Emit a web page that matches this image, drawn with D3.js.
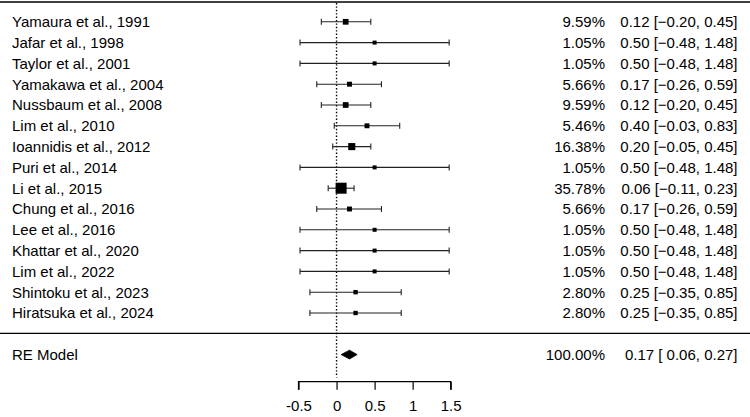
<!DOCTYPE html>
<html>
<head>
<meta charset="utf-8">
<script src="https://cdn.jsdelivr.net/npm/d3@7"></script>
<style>
html,body{margin:0;padding:0;background:#fff;}
svg{display:block;font-family:"Liberation Sans",Arial,Helvetica,sans-serif;}
</style>
</head>
<body>
<svg id="chart" width="750" height="417"></svg>
<script>
const studies = ["Yamaura et al., 1991","Jafar et al., 1998","Taylor et al., 2001","Yamakawa et al., 2004","Nussbaum et al., 2008","Lim et al., 2010","Ioannidis et al., 2012","Puri et al., 2014","Li et al., 2015","Chung et al., 2016","Lee et al., 2016","Khattar et al., 2020","Lim et al., 2022","Shintoku et al., 2023","Hiratsuka et al., 2024"];
const weights = [9.59,1.05,1.05,5.66,9.59,5.46,16.38,1.05,35.78,5.66,1.05,1.05,1.05,2.80,2.80];
const estimates = [0.12,0.50,0.50,0.17,0.12,0.40,0.20,0.50,0.06,0.17,0.50,0.50,0.50,0.25,0.25];
const lower = [-0.20,-0.48,-0.48,-0.26,-0.20,-0.03,-0.05,-0.48,-0.11,-0.26,-0.48,-0.48,-0.48,-0.35,-0.35];
const upper = [0.45,1.48,1.48,0.59,0.45,0.83,0.45,1.48,0.23,0.59,1.48,1.48,1.48,0.85,0.85];
const summary = {label:"RE Model", weight:100.00, est:0.17, lo:0.06, hi:0.27};
const xTicks = [-0.5,0,0.5,1,1.5];

const svg = d3.select("#chart");
const x = d3.scaleLinear().domain([-0.5,1.5]).range([298.5,450.7]);
const y = d3.scaleLinear().domain([0,15]).range([333.8,21.8]);
const size = d3.scaleLinear().domain([d3.min(weights), d3.max(weights)]).range([4,11]);
const fmt = d3.format(".2f");
const fmtCI = v => (v < 0 ? "" : " ") + fmt(v);
const fs = 15;

const n = studies.length;
const rows = studies.map((s,i)=>({label:s, w:weights[i], est:estimates[i], lo:lower[i], hi:upper[i], row:n-i}));

// horizontal rules
svg.append("line").attr("x1",0).attr("x2",750).attr("y1",y(16)+1).attr("y2",y(16)+1)
  .attr("stroke","#000").attr("stroke-width",1.6);
svg.append("line").attr("x1",0).attr("x2",750).attr("y1",y(0)-0.5).attr("y2",y(0)-0.5)
  .attr("stroke","#000").attr("stroke-width",1.2);

// reference line at 0
svg.append("line").attr("x1",x(0)).attr("x2",x(0)).attr("y1",y(16)+2).attr("y2",y(-2.1))
  .attr("stroke","#000").attr("stroke-width",1.4).attr("stroke-dasharray","1.4,2");

// CIs
const g = svg.append("g");
rows.forEach(d=>{
  const yy = y(d.row);
  g.append("line").attr("x1",x(d.lo)).attr("x2",x(d.hi)).attr("y1",yy).attr("y2",yy)
    .attr("stroke","#222").attr("stroke-width",1.1);
  [d.lo,d.hi].forEach(v=>{
    g.append("line").attr("x1",x(v)).attr("x2",x(v)).attr("y1",yy-3).attr("y2",yy+3)
      .attr("stroke","#222").attr("stroke-width",1.1);
  });
  const s = size(d.w);
  g.append("rect").attr("x",x(d.est)-s/2).attr("y",yy-s/2).attr("width",s).attr("height",s).attr("fill","#000");
  svg.append("text").attr("x",12).attr("y",yy).attr("dy","0.36em").attr("font-size",fs).text(d.label);
  svg.append("text").attr("x",605).attr("y",yy).attr("dy","0.36em").attr("font-size",fs)
    .attr("text-anchor","end").text(fmt(d.w)+"%");
  svg.append("text").attr("x",737.5).attr("y",yy).attr("dy","0.36em").attr("font-size",fs)
    .attr("text-anchor","end").text(fmt(d.est)+" ["+fmtCI(d.lo)+", "+fmt(d.hi)+"]");
});

// summary diamond
const ys = y(-1);
svg.append("path")
  .attr("d",`M${x(summary.lo)},${ys} L${x(summary.est)},${ys-4.4} L${x(summary.hi)},${ys} L${x(summary.est)},${ys+4.4} Z`)
  .attr("fill","#000").attr("stroke","#000").attr("stroke-width",0.8);
svg.append("text").attr("x",12).attr("y",ys).attr("dy","0.36em").attr("font-size",fs).text(summary.label);
svg.append("text").attr("x",605).attr("y",ys).attr("dy","0.36em").attr("font-size",fs)
  .attr("text-anchor","end").text(fmt(summary.weight)+"%");
svg.append("text").attr("x",737.5).attr("y",ys).attr("dy","0.36em").attr("font-size",fs)
  .attr("text-anchor","end").text(fmt(summary.est)+" ["+fmtCI(summary.lo)+", "+fmt(summary.hi)+"]");

// axis
const axis = d3.axisBottom(x).tickValues(xTicks).tickSize(8).tickPadding(11)
  .tickFormat(d=>d===0?"0":String(d));
const ax = svg.append("g").attr("transform",`translate(0,${y(-2.3)})`).call(axis);
ax.select(".domain").attr("d",`M${x(-0.5)},8V0H${x(1.5)}V8`).attr("stroke","#000").attr("stroke-width",1.2);
ax.selectAll(".tick line").attr("stroke","#000").attr("stroke-width",1.2);
ax.selectAll(".tick text").attr("font-size",fs).attr("font-family","Liberation Sans, Arial, sans-serif").attr("fill","#000");
</script>
</body>
</html>
